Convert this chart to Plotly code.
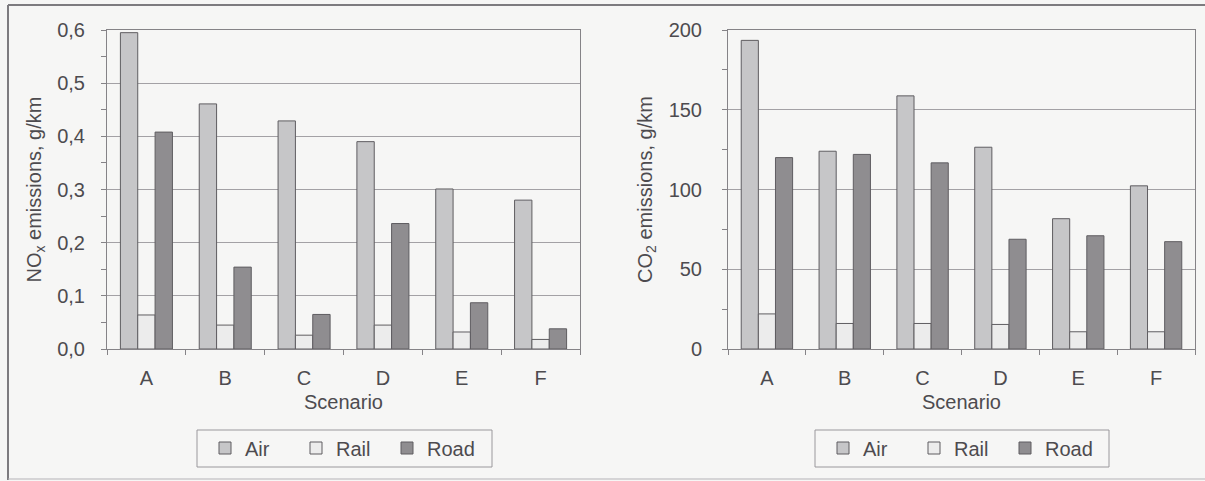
import plotly.graph_objects as go

scenarios = ["A", "B", "C", "D", "E", "F"]

# NOx emissions, g/km
nox_air = [0.595, 0.461, 0.429, 0.390, 0.301, 0.280]
nox_rail = [0.064, 0.045, 0.026, 0.045, 0.032, 0.018]
nox_road = [0.408, 0.154, 0.065, 0.236, 0.087, 0.038]

# CO2 emissions, g/km
co2_air = [193.5, 124, 158.7, 126.5, 81.7, 102.3]
co2_rail = [22, 16, 16, 15.4, 10.8, 10.8]
co2_road = [120, 122, 116.7, 68.8, 71, 67.3]

modes = ["Air", "Rail", "Road"]
colors = {"Air": "#c6c6c8", "Rail": "#ececec", "Road": "#8f8d90"}

W, H = 1205, 481
INK = "#4d4b4f"
LINE = "#858387"
BG = "#f6f6f5"
FONT = "Liberation Sans, Arial, sans-serif"
FS = 20

fig = go.Figure()

panels = [
    ("x", "y", "legend", [nox_air, nox_rail, nox_road]),
    ("x2", "y2", "legend2", [co2_air, co2_rail, co2_road]),
]
for xa, ya, lg, series in panels:
    for name, vals in zip(modes, series):
        fig.add_trace(go.Bar(
            x=scenarios, y=vals, name=name, xaxis=xa, yaxis=ya, legend=lg,
            marker=dict(color=colors[name], line=dict(color="#5f5d61", width=1)),
        ))


def px_x(v):
    return v / W


def px_y(v):
    return 1 - v / H


y_dom = [px_y(349), px_y(30)]

xcommon = dict(
    type="category", tickson="boundaries", ticks="outside", ticklen=5,
    tickcolor=LINE, showline=True, linecolor=LINE, linewidth=1, mirror=True,
    showgrid=False, automargin=False, tickfont=dict(size=FS, color=INK),
    title=dict(text="Scenario", font=dict(size=FS, color=INK), standoff=6),
    ticklabelstandoff=11,
)
ycommon = dict(
    ticks="outside", ticklen=5, tickcolor=LINE, showline=True, linecolor=LINE,
    linewidth=1, mirror=True, showgrid=True, gridcolor="#a3a1a5", gridwidth=1,
    zeroline=False, automargin=False, tickfont=dict(size=FS, color=INK), domain=y_dom,
)
legcommon = dict(
    orientation="h", xanchor="left", y=px_y(448), yanchor="middle",
    borderwidth=0, bgcolor="rgba(0,0,0,0)",
    font=dict(size=FS, color=INK), entrywidth=46, traceorder="normal",
)


def frame_line(x0, y0, x1, y1, color, width):
    return dict(type="line", xref="paper", yref="paper",
                x0=px_x(x0), x1=px_x(x1), y0=px_y(y0), y1=px_y(y1),
                line=dict(color=color, width=width))


def legend_box(x0, x1):
    return dict(type="rect", xref="paper", yref="paper",
                x0=px_x(x0), x1=px_x(x1), y0=px_y(467), y1=px_y(430),
                line=dict(color="#9a989c", width=1), fillcolor=BG, layer="below")


fig.update_layout(
    template="none",
    width=W, height=H,
    margin=dict(l=0, r=0, t=0, b=0, autoexpand=False),
    paper_bgcolor=BG, plot_bgcolor=BG,
    font=dict(family=FONT, color=INK),
    separators=", ",
    barmode="group", bargap=0.34, bargroupgap=0,
    xaxis=dict(domain=[px_x(107), px_x(580)], anchor="y", **xcommon),
    xaxis2=dict(domain=[px_x(728), px_x(1195)], anchor="y2", **xcommon),
    yaxis=dict(
        anchor="x", range=[0, 0.6], dtick=0.1, tickformat=".1f",
        minor=dict(dtick=0.05, ticks="outside", ticklen=5, tickcolor=LINE, showgrid=False),
        ticklabelstandoff=12,
        title=dict(text="NO<sub>x</sub> emissions, g/km", font=dict(size=FS, color=INK), standoff=10),
        **ycommon,
    ),
    yaxis2=dict(
        anchor="x2", range=[0, 200], dtick=50,
        minor=dict(dtick=25, ticks="outside", ticklen=5, tickcolor=LINE, showgrid=False),
        ticklabelstandoff=16,
        title=dict(text="CO<sub>2</sub> emissions, g/km", font=dict(size=FS, color=INK), standoff=10),
        **ycommon,
    ),
    legend=dict(x=px_x(205), **legcommon),
    legend2=dict(x=px_x(823), **legcommon),
    shapes=[
        legend_box(197, 492),
        legend_box(815, 1109),
        frame_line(8, 5, W, 5, "#7d7b7f", 2),
        frame_line(8, 5, 8, 480, "#7d7b7f", 2),
        frame_line(8, 479, W, 479, "#b5b3b7", 1),
    ],
)

fig.write_html("out.html")
